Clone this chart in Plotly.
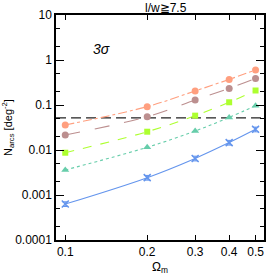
import plotly.graph_objects as go

omega = [0.1, 0.2, 0.3, 0.4, 0.5]
n_orange = [0.036, 0.092, 0.205, 0.37, 0.60]
n_brown = [0.0215, 0.055, 0.129, 0.234, 0.39]
n_green = [0.0087, 0.0255, 0.058, 0.115, 0.21]
n_teal = [0.0036, 0.0115, 0.0264, 0.053, 0.0966]
n_blue = [0.00063, 0.00243, 0.0065, 0.0146, 0.0288]
threshold = 0.052

y_tickvals = [0.0001, 0.001, 0.01, 0.1, 1, 10]
y_ticktext = ["0.0001", "0.001", "0.01", "0.1", "1", "10"]
x_tickvals = [0.1, 0.2, 0.3, 0.4, 0.5]
x_ticktext = ["0.1", "0.2", "0.3", "0.4", "0.5"]

fig = go.Figure()

fig.add_trace(go.Scatter(x=[0.0925, 0.537], y=[threshold, threshold], mode="lines",
                         line=dict(color="#222222", width=1.3, dash="10px,5px"), showlegend=False))

series = [
    (n_orange, "#FF9F7F", "dashdot", "circle", 7),
    (n_brown, "#BC8F8F", "longdash", "circle", 7),
    (n_green, "#ADFF2F", "dash", "square", 6),
    (n_teal, "#66CDAA", "dot", "triangle-up", 7),
]
for ys, col, dash, sym, sz in series:
    fig.add_trace(go.Scatter(x=omega, y=ys, mode="lines+markers",
                             line=dict(color=col, width=1.1, dash=dash, shape="spline"),
                             marker=dict(color=col, symbol=sym, size=sz),
                             showlegend=False))

fig.add_trace(go.Scatter(x=omega, y=n_blue, mode="lines+markers",
                         line=dict(color="#6495ED", width=1.1, shape="spline"),
                         marker=dict(color="#6495ED", symbol="x-thin", size=7,
                                     line=dict(color="#6495ED", width=1.5)),
                         error_y=dict(type="percent", value=12, color="#6495ED", thickness=1, width=3),
                         showlegend=False))

axis_common = dict(showline=True, linecolor="black", linewidth=1.5, mirror="ticks",
                   ticks="inside", tickcolor="black", showgrid=False, zeroline=False,
                   automargin=False,
                   tickfont=dict(family="Liberation Sans, Arial", size=12, color="black"))

fig.update_xaxes(type="log", range=[-1.034, -0.270], tickvals=x_tickvals, ticktext=x_ticktext,
                 ticklen=5, tickwidth=1,
                 title=dict(text="Ω<sub>m</sub>", font=dict(family="Liberation Sans, Arial", size=12, color="black"),
                            standoff=4),
                 **axis_common)
fig.update_yaxes(type="log", range=[-4, 1], tickvals=y_tickvals, ticktext=y_ticktext,
                 ticklen=8, tickwidth=1,
                 minor=dict(ticks="inside", ticklen=4, tickcolor="black", showgrid=False),
                 title=dict(text="N<sub>arcs</sub> [deg<sup>-2</sup>]",
                            font=dict(family="Liberation Sans, Arial", size=11, color="black"), standoff=2),
                 **axis_common)

fig.add_annotation(x=0.5, xref="paper", y=1.0, yref="paper", yanchor="bottom", xanchor="center",
                   xshift=6, text="l/w≧7.5", showarrow=False, yshift=-2,
                   font=dict(family="Liberation Sans, Arial", size=12, color="black"))
fig.add_annotation(x=0.17, xref="paper", y=0.895, yref="paper", text="<i>3σ</i>", showarrow=False,
                   font=dict(family="Liberation Sans, Arial", size=14, color="black"))

fig.update_layout(width=279, height=279, margin=dict(l=56, r=15, t=15, b=39),
                  plot_bgcolor="white", paper_bgcolor="white")

fig.write_html("out.html", config={"displayModeBar": False},
               post_script="document.body.style.margin='0';document.body.style.overflow='hidden';")
